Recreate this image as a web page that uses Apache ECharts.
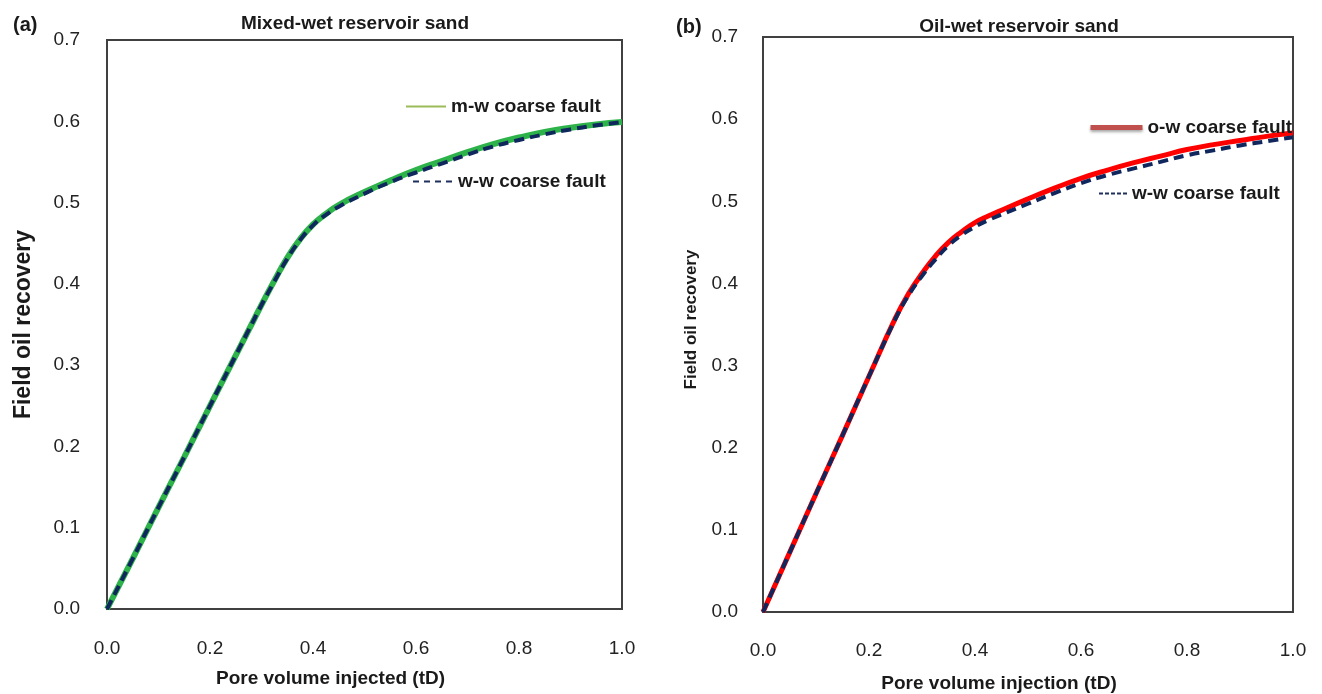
<!DOCTYPE html>
<html>
<head>
<meta charset="utf-8">
<script src="https://cdn.jsdelivr.net/npm/echarts@6/dist/echarts.min.js"></script>
<style>
  html, body { margin: 0; padding: 0; background: #fff; }
  #main { width: 1322px; height: 694px; }
</style>
</head>
<body>
<div id="main"></div>
<script>
// pore volume injected (tD), finer around the knee
var pv = [0, 0.05, 0.1, 0.15, 0.2, 0.25, 0.275, 0.3, 0.325, 0.35, 0.375, 0.4, 0.425, 0.45, 0.5, 0.55, 0.6, 0.65, 0.7, 0.75, 0.8, 0.85, 0.9, 0.95, 1.0];

// (a) mixed-wet
var mwCoarse  = [0, 0.062, 0.125, 0.187, 0.25, 0.312, 0.343, 0.374, 0.404, 0.432, 0.455, 0.473, 0.486, 0.497, 0.513, 0.527, 0.540, 0.551, 0.562, 0.572, 0.580, 0.587, 0.592, 0.596, 0.599];
var wwCoarseA = [0, 0.062, 0.125, 0.187, 0.25, 0.312, 0.343, 0.374, 0.403, 0.431, 0.454, 0.472, 0.485, 0.495, 0.511, 0.525, 0.537, 0.548, 0.559, 0.569, 0.577, 0.584, 0.590, 0.595, 0.599];

// (b) oil-wet
var owCoarse  = [0, 0.072, 0.144, 0.215, 0.287, 0.358, 0.388, 0.412, 0.433, 0.450, 0.463, 0.474, 0.482, 0.489, 0.503, 0.516, 0.528, 0.538, 0.547, 0.555, 0.563, 0.569, 0.574, 0.579, 0.583];
var wwCoarseB = [0, 0.072, 0.144, 0.215, 0.287, 0.357, 0.386, 0.409, 0.429, 0.446, 0.459, 0.469, 0.477, 0.484, 0.497, 0.510, 0.522, 0.532, 0.540, 0.548, 0.556, 0.562, 0.568, 0.573, 0.578];

function pairs(xs, ys) {
    return xs.map(function (x, i) { return [x, ys[i]]; });
}

var chart = echarts.init(document.getElementById('main'));

var labelFont = 'Arial, "Liberation Sans", sans-serif';
var dark = '#1a1a1a';

function xAxisOf(idx, name, gap, margin, shift) {
    return {
        gridIndex: idx, type: 'value', min: 0, max: 1.0, interval: 0.2,
        name: name, nameLocation: 'middle', nameGap: gap,
        // name sits a bit left of the axis centre in the original
        nameTextStyle: { fontSize: 19, fontWeight: 'bold', color: dark, fontFamily: labelFont,
            padding: [0, shift, 0, 0] },
        axisLine: { show: false }, axisTick: { show: false }, splitLine: { show: false },
        axisLabel: { fontSize: 19, color: '#222', margin: margin, fontFamily: labelFont,
            formatter: function (v) { return v.toFixed(1); } }
    };
}

function yAxisOf(idx, gap, nameSize, margin, shift) {
    return {
        gridIndex: idx, type: 'value', min: 0, max: 0.7, interval: 0.1,
        name: 'Field oil recovery', nameLocation: 'middle', nameGap: gap,
        nameTextStyle: { fontSize: nameSize, fontWeight: 'bold', color: dark, fontFamily: labelFont,
            padding: [0, 0, 0, shift] },
        axisLine: { show: false }, axisTick: { show: false }, splitLine: { show: false },
        axisLabel: { fontSize: 19, color: '#222', margin: margin, fontFamily: labelFont,
            formatter: function (v) { return v.toFixed(1); } }
    };
}

var legendText = { fontSize: 19, fontWeight: 'bold', color: dark, fontFamily: labelFont };
var noSymbol = { opacity: 0 };

var option = {
    animation: false,
    title: [
        { text: '(a)', left: 8, top: 10, textStyle: { fontSize: 20, fontWeight: 'bold', color: dark, fontFamily: labelFont } },
        { text: 'Mixed-wet reservoir sand', left: 350, top: 9, textAlign: 'center',
          textStyle: { fontSize: 19, fontWeight: 'bold', color: dark, fontFamily: labelFont } },
        { text: '(b)', left: 671, top: 12, textStyle: { fontSize: 20, fontWeight: 'bold', color: dark, fontFamily: labelFont } },
        { text: 'Oil-wet reservoir sand', left: 1014, top: 12, textAlign: 'center',
          textStyle: { fontSize: 19, fontWeight: 'bold', color: dark, fontFamily: labelFont } }
    ],
    grid: [
        { left: 107, top: 40, width: 515, height: 569, outerBoundsMode: 'none',
          show: true, borderColor: '#404040', borderWidth: 2 },
        { left: 763, top: 37, width: 530, height: 575, outerBoundsMode: 'none',
          show: true, borderColor: '#404040', borderWidth: 2 }
    ],
    xAxis: [
        xAxisOf(0, 'Pore volume injected (tD)', 60, 30, 68),
        xAxisOf(1, 'Pore volume injection (tD)', 62, 29, 58)
    ],
    yAxis: [
        yAxisOf(0, 72, 23, 27, 0),
        yAxisOf(1, 63, 17, 25, 10)
    ],
    legend: [
        { left: 405, top: 97, padding: 0, itemWidth: 40, itemHeight: 14, itemGap: 4,
          textStyle: legendText, selectedMode: false,
          data: [{ name: 'm-w coarse fault', itemStyle: noSymbol, lineStyle: { color: '#9bbb59', width: 2 } }] },
        { left: 412, top: 172, padding: 0, itemWidth: 40, itemHeight: 14,
          textStyle: legendText, selectedMode: false,
          data: [{ name: 'w-w coarse fault', itemStyle: noSymbol, lineStyle: { color: '#1f2f5e', width: 2, type: [6, 5] } }] },
        { left: 1088, top: 118, padding: 0, itemWidth: 52, itemHeight: 14,
          textStyle: legendText, selectedMode: false,
          data: [{ name: 'o-w coarse fault', itemStyle: noSymbol, lineStyle: { color: '#c0504d', width: 5,
              shadowColor: 'rgba(0,0,0,0.35)', shadowBlur: 3, shadowOffsetY: 2 } }] },
        { left: 1098, top: 184, padding: 0, itemWidth: 28, itemHeight: 14,
          textStyle: legendText, selectedMode: false,
          data: [{ name: 'w-w coarse fault', itemStyle: noSymbol, lineStyle: { color: '#1f2f5e', width: 2, type: [4, 2] } }] }
    ],
    series: [
        { name: 'm-w coarse fault', type: 'line', xAxisIndex: 0, yAxisIndex: 0, smooth: true, symbol: 'none',
          lineStyle: { color: '#2db34a', width: 6 }, data: pairs(pv, mwCoarse) },
        { name: 'w-w coarse fault', type: 'line', xAxisIndex: 0, yAxisIndex: 0, smooth: true, symbol: 'none',
          lineStyle: { color: '#10275e', width: 4, type: [10, 6] }, data: pairs(pv, wwCoarseA) },
        { name: 'o-w coarse fault', type: 'line', xAxisIndex: 1, yAxisIndex: 1, smooth: true, symbol: 'none',
          lineStyle: { color: '#ff0000', width: 5 }, data: pairs(pv, owCoarse) },
        { name: 'w-w coarse fault', type: 'line', xAxisIndex: 1, yAxisIndex: 1, smooth: true, symbol: 'none',
          lineStyle: { color: '#10275e', width: 4, type: [10, 6] }, data: pairs(pv, wwCoarseB) }
    ]
};

chart.setOption(option);
</script>
</body>
</html>
